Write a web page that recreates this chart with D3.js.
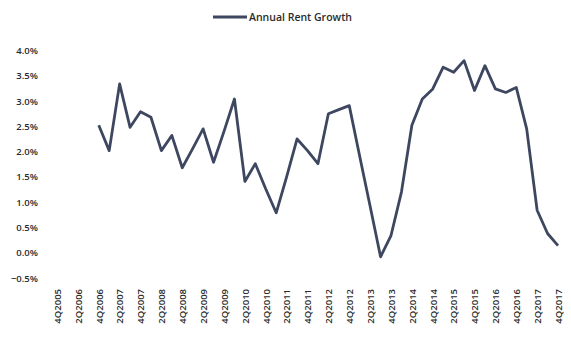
<!DOCTYPE html>
<html>
<head>
<meta charset="utf-8">
<script src="https://cdn.jsdelivr.net/npm/d3@7"></script>
<style>
  html, body { margin: 0; padding: 0; background: #fff; }
  svg { display: block; }
  text { font-family: "Open Sans", "Liberation Sans", sans-serif; fill: #2b2b2b; }
</style>
</head>
<body>
<div id="chart"></div>
<script>
// Quarter categories, 4Q2005 .. 4Q2017
const quarters = [
  "4Q2005",
  "1Q2006", "2Q2006", "3Q2006", "4Q2006",
  "1Q2007", "2Q2007", "3Q2007", "4Q2007",
  "1Q2008", "2Q2008", "3Q2008", "4Q2008",
  "1Q2009", "2Q2009", "3Q2009", "4Q2009",
  "1Q2010", "2Q2010", "3Q2010", "4Q2010",
  "1Q2011", "2Q2011", "3Q2011", "4Q2011",
  "1Q2012", "2Q2012", "3Q2012", "4Q2012",
  "1Q2013", "2Q2013", "3Q2013", "4Q2013",
  "1Q2014", "2Q2014", "3Q2014", "4Q2014",
  "1Q2015", "2Q2015", "3Q2015", "4Q2015",
  "1Q2016", "2Q2016", "3Q2016", "4Q2016",
  "1Q2017", "2Q2017", "3Q2017", "4Q2017"
];

// Annual rent growth, % (no data before 4Q2006)
const rentGrowth = [
  null,
  null, null, null, 2.52,
  2.02, 3.34, 2.48, 2.79,
  2.68, 2.02, 2.32, 1.68,
  2.06, 2.45, 1.79, 2.40,
  3.04, 1.41, 1.76, 1.26,
  0.79, 1.50, 2.25, 2.02,
  1.76, 2.75, 2.83, 2.91,
  1.91, 0.92, -0.08, 0.34,
  1.20, 2.52, 3.04, 3.24,
  3.67, 3.57, 3.80, 3.21,
  3.70, 3.24, 3.17, 3.27,
  2.45, 0.84, 0.38, 0.14
];

// Category labels shown on the axis
const xTickLabels = [
  "4Q2005", "2Q2006", "4Q2006", "2Q2007", "4Q2007", "2Q2008", "4Q2008",
  "2Q2009", "4Q2009", "2Q2010", "4Q2010", "2Q2011", "4Q2011", "2Q2012",
  "4Q2012", "2Q2013", "4Q2013", "2Q2014", "4Q2014", "2Q2015", "4Q2015",
  "2Q2016", "4Q2016", "2Q2017", "4Q2017"
];
const yTicks = [-0.5, 0.0, 0.5, 1.0, 1.5, 2.0, 2.5, 3.0, 3.5, 4.0];

const seriesName = "Annual Rent Growth";
const lineColor = "#3e4760";

const width = 571, height = 339;

const svg = d3.select("#chart").append("svg")
  .attr("width", width)
  .attr("height", height);

const x = d3.scalePoint()
  .domain(quarters)
  .range([57, 558]);

const y = d3.scaleLinear()
  .domain([-0.5, 4.0])
  .range([278, 50.5]);

// Y axis (labels only)
const yAxis = d3.axisLeft(y)
  .tickValues(yTicks)
  .tickSize(0)
  .tickPadding(0)
  .tickFormat(d => d3.format(".1f")(d) + "%");

svg.append("g")
  .attr("transform", "translate(38,0)")
  .call(yAxis)
  .call(g => g.select(".domain").remove())
  .call(g => g.selectAll("text")
    .attr("font-size", "9.5px")
    .attr("font-weight", 600)
    .attr("font-family", null)
    .attr("fill", "#333"));

// X axis (rotated labels only)
const xAxis = d3.axisBottom(x)
  .tickValues(xTickLabels)
  .tickSize(0)
  .tickPadding(0);

svg.append("g")
  .attr("transform", "translate(0,289)")
  .call(xAxis)
  .call(g => g.select(".domain").remove())
  .call(g => g.selectAll("text")
    .attr("font-size", "9.5px")
    .attr("font-weight", 600)
    .attr("font-family", null)
    .attr("fill", "#333")
    .attr("transform", "rotate(-90)")
    .attr("text-anchor", "end")
    .attr("x", 0)
    .attr("y", 0)
    .attr("dy", "0.35em"));

// Series line
const line = d3.line()
  .defined(d => d.v !== null)
  .x(d => x(d.q))
  .y(d => y(d.v));

const points = quarters.map((q, i) => ({ q: q, v: rentGrowth[i] }));

svg.append("path")
  .datum(points)
  .attr("fill", "none")
  .attr("stroke", lineColor)
  .attr("stroke-width", 2.8)
  .attr("stroke-linejoin", "round")
  .attr("d", line);

// Legend
const legend = svg.append("g").attr("transform", "translate(213,17)");
legend.append("line")
  .attr("x1", 0).attr("x2", 34)
  .attr("y1", 0).attr("y2", 0)
  .attr("stroke", lineColor)
  .attr("stroke-width", 2.8);
legend.append("text")
  .attr("x", 36)
  .attr("y", 0)
  .attr("dy", "0.35em")
  .attr("font-size", "10.5px")
  .attr("font-weight", 600)
  .attr("fill", "#333")
  .text(seriesName);
</script>
</body>
</html>
